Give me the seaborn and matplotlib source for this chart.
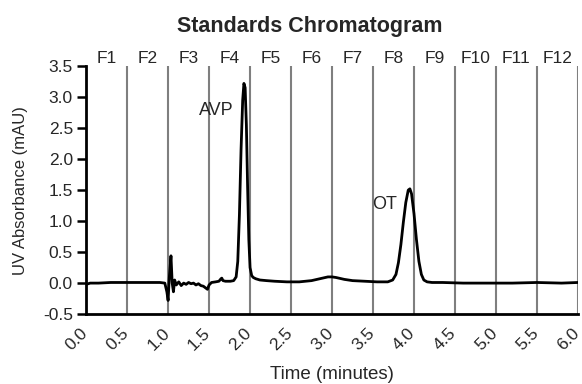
import numpy as np
import pandas as pd
import seaborn as sns
import matplotlib.pyplot as plt
from matplotlib.transforms import ScaledTranslation

# chromatogram trace (time in minutes, absorbance in mAU)
time_min = [0.00, 0.05, 0.15, 0.30, 0.45, 0.60, 0.75, 0.90, 0.96, 0.985, 1.00, 1.015, 1.035,
            1.05, 1.065, 1.08, 1.10, 1.13, 1.16, 1.19, 1.22, 1.25, 1.28, 1.31, 1.34, 1.37,
            1.40, 1.43, 1.46, 1.48, 1.50, 1.53, 1.58, 1.62, 1.645, 1.655, 1.67, 1.70, 1.76,
            1.80, 1.83, 1.85, 1.87, 1.89, 1.91, 1.925, 1.94, 1.955, 1.97, 1.985, 2.00, 2.02,
            2.04, 2.07, 2.12, 2.20, 2.30, 2.45, 2.60, 2.75, 2.85, 2.95, 3.00, 3.05, 3.15,
            3.25, 3.40, 3.55, 3.68, 3.74, 3.78, 3.81, 3.84, 3.87, 3.90, 3.93, 3.95, 3.97,
            4.00, 4.03, 4.06, 4.09, 4.12, 4.16, 4.22, 4.35, 4.60, 4.90, 5.20, 5.50, 5.80, 6.00]
absorbance = [-0.02, 0.00, 0.00, 0.01, 0.01, 0.01, 0.01, 0.01, 0.00, -0.14, -0.28, 0.10, 0.44,
              0.00, -0.14, 0.05, -0.03, 0.02, -0.04, 0.00, -0.02, 0.01, -0.01, 0.00, -0.03, -0.01,
              -0.04, -0.05, -0.08, -0.10, -0.03, 0.01, 0.02, 0.03, 0.07, 0.08, 0.04, 0.03, 0.03,
              0.04, 0.10, 0.35, 1.10, 2.15, 2.95, 3.22, 3.15, 2.55, 1.55, 0.70, 0.25, 0.12,
              0.09, 0.07, 0.05, 0.04, 0.03, 0.02, 0.02, 0.04, 0.07, 0.10, 0.10, 0.09, 0.06,
              0.04, 0.03, 0.02, 0.02, 0.05, 0.14, 0.33, 0.62, 0.98, 1.30, 1.50, 1.52, 1.44,
              1.12, 0.70, 0.35, 0.14, 0.05, 0.02, 0.01, 0.01, 0.00, 0.00, 0.00, 0.01, 0.00, 0.01]

fractions = ['F1', 'F2', 'F3', 'F4', 'F5', 'F6', 'F7', 'F8', 'F9', 'F10', 'F11', 'F12']
fraction_edges = [0.0, 0.5, 1.0, 1.5, 2.0, 2.5, 3.0, 3.5, 4.0, 4.5, 5.0, 5.5, 6.0]
peak_labels = ['AVP', 'OT']
peak_label_x = [1.585, 3.64]
peak_label_y = [2.79, 1.27]

df = pd.DataFrame({'Time': time_min, 'Absorbance': absorbance})

sns.set_style('ticks')
plt.rcParams['font.family'] = ['Liberation Sans', 'DejaVu Sans']
plt.rcParams['axes.unicode_minus'] = False

fig = plt.figure(figsize=(5.82, 3.84), dpi=100)
ax = fig.add_axes([0.148, 0.182, 0.845, 0.646])

# fraction boundaries
for edge in fraction_edges[1:]:
    ax.axvline(edge, color='#7f7f7f', lw=1.5, zorder=1)

sns.lineplot(data=df, x='Time', y='Absorbance', color='black', lw=2, ax=ax, zorder=3)

for lab, lo, hi in zip(fractions, fraction_edges[:-1], fraction_edges[1:]):
    ax.text((lo + hi) / 2, 1.0, lab, transform=ax.get_xaxis_transform(),
            ha='center', va='bottom', fontsize=12.5)

for lab, x, y in zip(peak_labels, peak_label_x, peak_label_y):
    ax.text(x, y, lab, ha='center', va='center', fontsize=13)

ax.set_xlim(0, 6)
ax.set_ylim(-0.5, 3.5)
ax.set_xticks(np.arange(0, 6.01, 0.5))
ax.set_yticks(np.arange(-0.5, 3.51, 0.5))
ax.set_xticklabels([f'{v:.1f}' for v in np.arange(0, 6.01, 0.5)], rotation=45,
                   ha='right', va='center', rotation_mode='anchor')
ax.tick_params(axis='x', length=0, labelsize=12.5, pad=12)
ax.tick_params(axis='y', length=6.5, width=1.8, labelsize=12.5, color='black', pad=3)
shift = ScaledTranslation(-1 / 100, 0, fig.dpi_scale_trans)
for lbl in ax.get_xticklabels():
    lbl.set_transform(lbl.get_transform() + shift)
for s in ['left', 'bottom']:
    ax.spines[s].set_linewidth(2)
    ax.spines[s].set_color('black')
sns.despine(ax=ax)

ax.set_xlabel('Time (minutes)', fontsize=13.5)
ax.xaxis.set_label_coords(0.5, -0.21)
ax.set_ylabel('UV Absorbance (mAU)', fontsize=12)
ax.yaxis.set_label_coords(-0.118, 0.5)
fig.text(0.533, 0.917, 'Standards Chromatogram', fontsize=15.5, fontweight='bold',
         ha='center', va='baseline')

fig.savefig('out.png', dpi=100)
